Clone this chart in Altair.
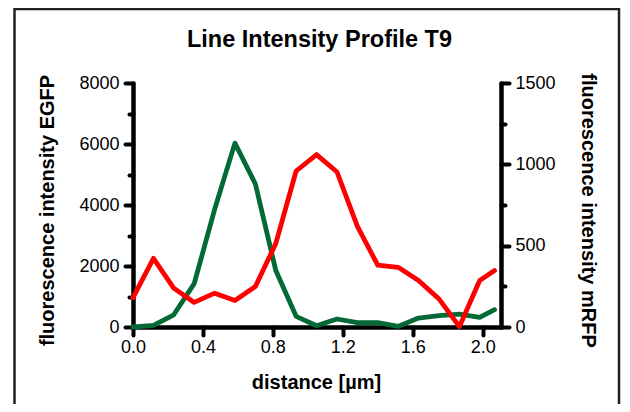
import altair as alt
import pandas as pd

distance = [0.0, 0.117, 0.233, 0.35, 0.467, 0.583, 0.70, 0.817, 0.933, 1.05,
            1.167, 1.283, 1.40, 1.517, 1.633, 1.75, 1.867, 1.983, 2.068]
egfp = [0, 55, 400, 1420, 3860, 6030, 4690, 1850, 350, 40,
        262, 140, 140, 20, 294, 370, 425, 316, 567]
mrfp = [180, 422, 239, 151, 208, 163, 249, 514, 959, 1060,
        953, 620, 380, 367, 286, 173, 2, 286, 347]

x_ticks = [0.0, 0.4, 0.8, 1.2, 1.6, 2.0]
egfp_ticks = [0, 1000, 2000, 3000, 4000, 5000, 6000, 7000, 8000]
mrfp_ticks = [0, 250, 500, 750, 1000, 1250, 1500]
title_text = "Line Intensity Profile T9"

df = pd.DataFrame({"distance": distance, "egfp": egfp, "mrfp": mrfp})

FONT = "Liberation Sans"
W, H = 368, 244

x_enc = alt.X("distance:Q",
              scale=alt.Scale(domain=[0, 2.105], nice=False, zero=False),
              axis=alt.Axis(values=x_ticks, format=".1f", title="distance [µm]",
                            titleX=183, titleY=55, titleBaseline="middle",
                            titleAlign="center", labelFlush=False,
                            tickSize=8, labelPadding=3))

green = alt.Chart(df).mark_line(color="#046a35", strokeWidth=4.8,
                                strokeJoin="round", strokeCap="round").encode(
    x=x_enc,
    y=alt.Y("egfp:Q", scale=alt.Scale(domain=[0, 8000], nice=False),
            axis=alt.Axis(orient="left", values=egfp_ticks, format="d",
                          labelExpr="datum.value % 2000 === 0 ? datum.label : ''",
                          tickSize={"condition": {"test": "datum.value % 2000 === 0", "value": 8},
                                    "value": 4},
                          labelPadding=6, labelFlush=False,
                          title="fluorescence intensity EGFP",
                          titleX=-86, titleY=127, titleAngle=-90,
                          titleBaseline="middle", titleAlign="center")),
)

red = alt.Chart(df).mark_line(color="#ff0000", strokeWidth=4.8,
                              strokeJoin="round", strokeCap="round").encode(
    x=x_enc,
    y=alt.Y("mrfp:Q", scale=alt.Scale(domain=[0, 1500], nice=False),
            axis=alt.Axis(orient="right", values=mrfp_ticks, format="d",
                          labelExpr="datum.value % 500 === 0 ? datum.label : ''",
                          tickSize={"condition": {"test": "datum.value % 500 === 0", "value": 8},
                                    "value": 4},
                          labelPadding=6, labelFlush=False,
                          title="fluorescence intensity mRFP",
                          titleX=86, titleY=127, titleAngle=90,
                          titleBaseline="middle", titleAlign="center")),
)

one = pd.DataFrame({"t": [title_text]})

frame = alt.Chart(one).mark_rect(
    filled=False, stroke="#222222", strokeWidth=2.5).encode(
    x=alt.value(-118.5), x2=alt.value(486), y=alt.value(-74), y2=alt.value(400))

title = alt.Chart(one).mark_text(
    font=FONT, fontSize=23.5, fontWeight="bold", color="black",
    align="center", baseline="alphabetic").encode(
    text="t:N", x=alt.value(186.5), y=alt.value(-36))

chart = alt.layer(frame, title, green, red).resolve_scale(y="independent").properties(
    width=W, height=H,
    autosize=alt.AutoSizeParams(type="none"),
    padding={"left": 125, "top": 75, "right": 121, "bottom": 77},
).configure_axis(
    domainColor="black", domainWidth=4.5, domainCap="round",
    tickColor="black", tickWidth=4, tickCap="round",
    labelFont=FONT, labelFontSize=18, labelColor="black",
    titleFont=FONT, titleFontSize=20, titleFontWeight="bold", titleColor="black",
    grid=False,
).configure_view(strokeWidth=0)

chart.save("out.html", embed_options={"renderer": "svg", "actions": False})
